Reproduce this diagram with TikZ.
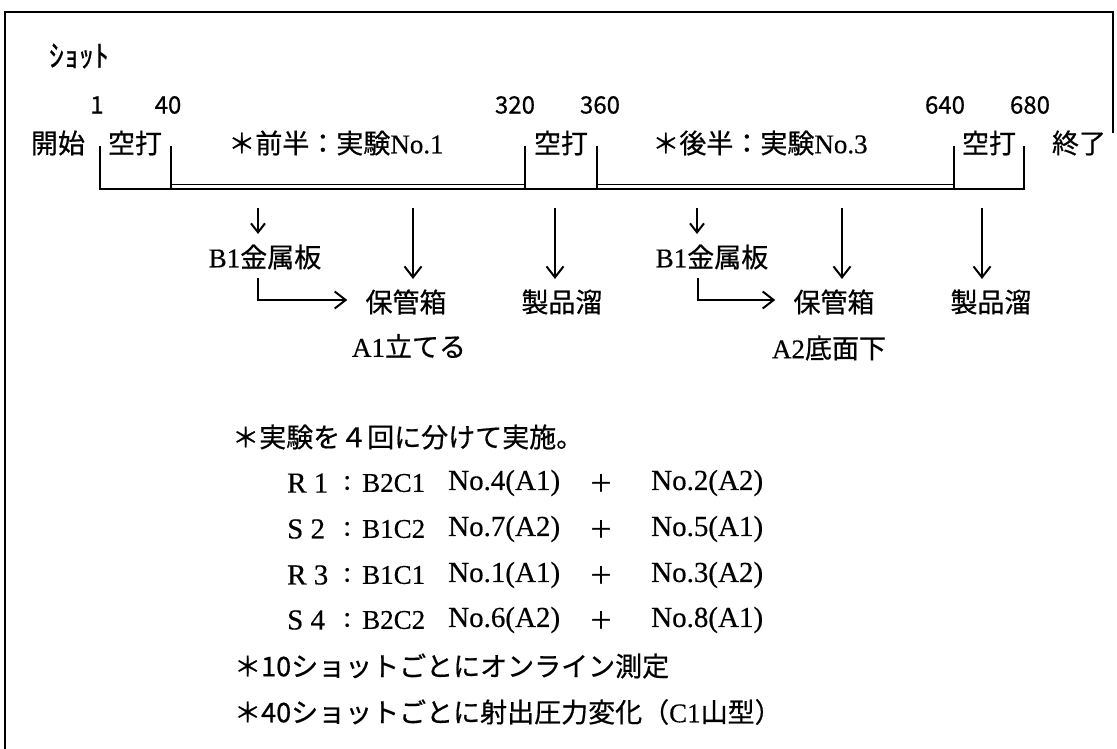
\documentclass[tikz,border=0pt]{standalone}
\usepackage{fontspec}
\setmainfont{Noto Sans CJK JP}[FakeBold=0.6]
\newfontfamily\lat{Liberation Serif}[FakeBold=0.4]
\usetikzlibrary{arrows.meta}
\begin{document}
\begin{tikzpicture}[x=1pt,y=-1pt,
  jp/.style={inner sep=0pt, font=\fontsize{27}{30}\selectfont},
  num/.style={inner sep=0pt, font=\fontsize{24}{28}\selectfont},
  ln/.style={line width=2pt},
  arr/.style={line width=2pt, -{Straight Barb[length=11pt,width=17pt,line width=2pt]}},
  sarr/.style={line width=2pt, -{Straight Barb[length=9pt,width=14pt,line width=2pt]}},
  left/.style={jp, anchor=west},
  latn/.style={jp, anchor=west, font=\fontsize{29}{32}\selectfont}]
\useasboundingbox (0,0) rectangle (1117,749);
% frame
\draw[line width=2pt] (1113,133) -- (1113,12) -- (5,12) -- (5,749);
% header
\node[inner sep=0pt, font=\fontsize{30}{34}\selectfont] (shot) at (79,56) {ｼｮｯﾄ};
% tick coordinates
\foreach \n/\x in {t1/100,t40/171,t320/525,t360/597,t640/954,t680/1024}{
  \coordinate (\n) at (\x,146);
  \coordinate (\n-b) at (\x,189);
}
% numbers
\node[num] (n1) at (97,105) {1};
\node[num] (n40) at (168,105) {40};
\node[num] (n320) at (515,105) {320};
\node[num] (n360) at (600,105) {360};
\node[num] (n640) at (945,105) {640};
\node[num] (n680) at (1030,105) {680};
% labels
\node[jp] (kaishi) at (58,143) {開始};
\node[jp] (ku1) at (135,143) {空打};
\node[jp] (zen) at (336,143) {＊前半：実験{\lat No.1}};
\node[jp] (ku2) at (561,143) {空打};
\node[jp] (kou) at (760,143) {＊後半：実験{\lat No.3}};
\node[jp] (ku3) at (989,143) {空打};
\node[jp] (end) at (1079,143) {終了};
% bracket
\draw[ln] (t1) -- (t1-b) -- (t680-b) -- (t680);
\foreach \n in {t40,t320,t360,t640}{ \draw[ln] (\n) -- (\n-b); }
\draw[line width=1.6pt] ([yshift=4.5pt]t40-b) -- ([yshift=4.5pt]t320-b);
\draw[line width=1.6pt] ([yshift=4.5pt]t360-b) -- ([yshift=4.5pt]t640-b);
% first half
\node[jp] (b1a) at (265,257) {{\lat B1}金属板};
\node[jp] (hoka) at (406,302) {保管箱};
\node[jp] (a1) at (409,346) {{\lat A1}立てる};
\node[jp] (sei1) at (562,302) {製品溜};
\coordinate (sa1) at (258,208);
\coordinate (sa1e) at (258,234);
\coordinate (la1) at (413,208);
\coordinate (la1e) at (413,279);
\coordinate (pa1) at (555,208);
\coordinate (pa1e) at (555,279);
\coordinate (ea1) at (258,278);
\coordinate (ea1c) at (258,300);
\draw[sarr] (sa1) -- (sa1e);
\draw[arr] (la1) -- (la1e);
\draw[arr] (pa1) -- (pa1e);
\draw[arr] (ea1) -- (ea1c) -- ([xshift=-18pt]hoka.west |- ea1c);
% second half
\node[jp] (b1b) at (712,257) {{\lat B1}金属板};
\node[jp] (hokb) at (834,302) {保管箱};
\node[jp] (a2) at (829,348) {{\lat A2}底面下};
\node[jp] (sei2) at (991,302) {製品溜};
\coordinate (sb1) at (697,208);
\coordinate (sb1e) at (697,234);
\coordinate (lb1) at (842,208);
\coordinate (lb1e) at (842,279);
\coordinate (pb1) at (982,208);
\coordinate (pb1e) at (982,279);
\coordinate (eb1) at (698,278);
\coordinate (eb1c) at (698,300);
\draw[sarr] (sb1) -- (sb1e);
\draw[arr] (lb1) -- (lb1e);
\draw[arr] (pb1) -- (pb1e);
\draw[arr] (eb1) -- (eb1c) -- ([xshift=-18pt]hokb.west |- eb1c);
% notes
\node[left] (note0) at (232,437) {＊実験を４回に分けて実施。};
\foreach \i/\y/\r/\b/\p/\q in {1/483/R 1/B2C1/No.4(A1)/No.2(A2),
                             2/529/S 2/B1C2/No.7(A2)/No.5(A1),
                             3/575/R 3/B1C1/No.1(A1)/No.3(A2),
                             4/620/S 4/B2C2/No.6(A2)/No.8(A1)}{
  \node[latn] (r\i) at (287,\y) {\lat \r};
  \node[latn] (c\i) at (343,\y) {\lat :};
  \node[left] (b\i) at (362,\y) {\lat \b};
  \node[latn] (p\i) at (448,\y) {\lat \p};
  \node[jp, font=\fontsize{24}{28}\selectfont] (plus\i) at (601,\y) {＋};
  \node[latn] (q\i) at (651,\y) {\lat \q};
}
\node[left] (note1) at (234,666) {＊10ショットごとにオンライン測定};
\node[left] (note2) at (234,712) {＊40ショットごとに射出圧力変化（{\lat C1}山型）};
\end{tikzpicture}
\end{document}
